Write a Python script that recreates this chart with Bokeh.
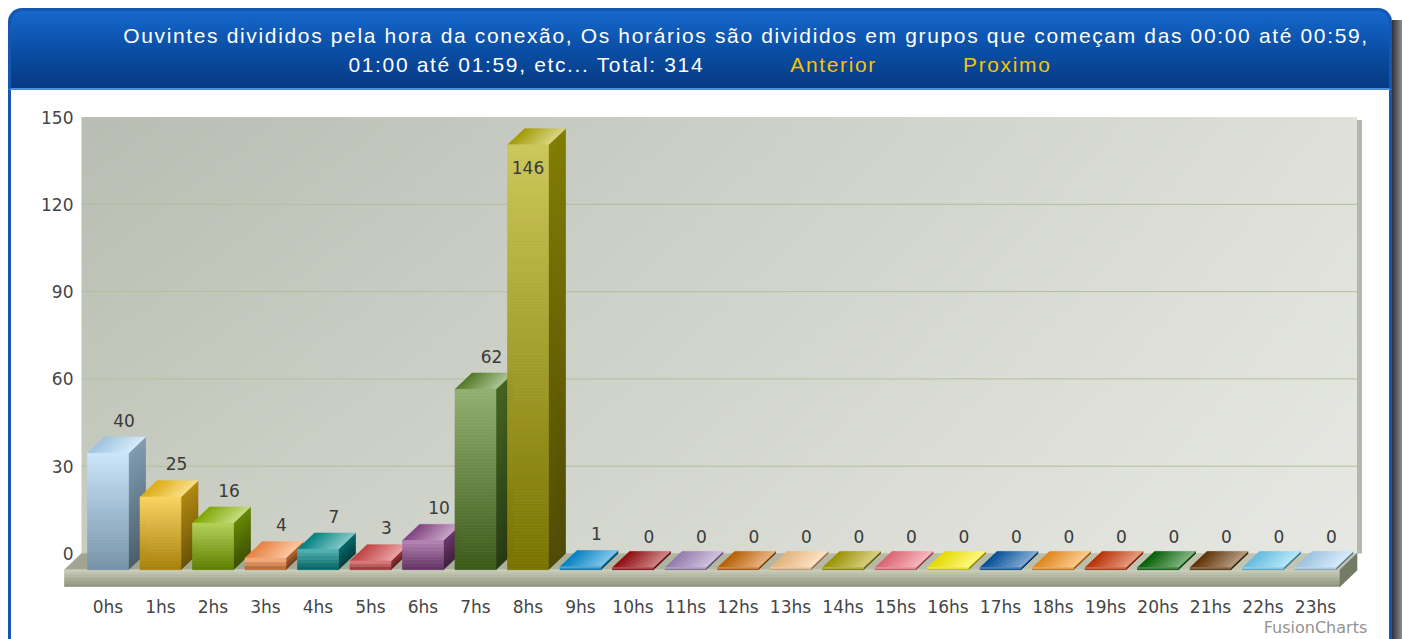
import numpy as np
from bokeh.plotting import figure
from bokeh.models import Range1d, FixedTicker, ColumnDataSource, Div, LinearAxis
from bokeh.layouts import column, row
from bokeh.embed import file_html
from bokeh.resources import INLINE
from bokeh.core.properties import value

# ---------------- data ----------------
hours = ["0hs", "1hs", "2hs", "3hs", "4hs", "5hs", "6hs", "7hs", "8hs", "9hs", "10hs", "11hs",
         "12hs", "13hs", "14hs", "15hs", "16hs", "17hs", "18hs", "19hs", "20hs", "21hs", "22hs", "23hs"]
listeners = [40, 25, 16, 4, 7, 3, 10, 62, 146, 1, 0, 0, 0, 0, 0, 0, 0, 0, 0, 0, 0, 0, 0, 0]
palette = ["#AFD8F8", "#F6BD0F", "#8BBA00", "#FF8E46", "#008E8E", "#D64646", "#8E468E", "#588526",
           "#B3AA00", "#008ED6", "#9D080D", "#A186BE", "#CC6600", "#FDC689", "#ABA000", "#F26D7D",
           "#FFF200", "#0054A6", "#F7941C", "#CC3300", "#006600", "#663300", "#6DCFF6", "#AFD8F8"]
y_ticks = [0, 30, 60, 90, 120, 150]
title_line1 = ("Ouvintes divididos pela hora da conexão, Os horários são divididos em grupos "
               "que começam das 00:00 até 00:59,")
title_line2 = "01:00 até 01:59, etc... Total: "
nav_links = ["Anterior", "Proximo"]
watermark = "FusionCharts"

# ---------------- layout (pixels) ----------------
OUTER = 8                  # white margin round the panel
PANEL_W = 1384
SHADOW_W = 10
BORDER = 3
BANNER_H = 82
FIG_W, FIG_H = PANEL_W - 2 * BORDER, 549
B_LEFT, B_RIGHT, B_TOP, B_BOTTOM = 51, 17, 10, 48
FRAME_W = FIG_W - B_LEFT - B_RIGHT
FRAME_H = FIG_H - B_TOP - B_BOTTOM
CAT_PX = 52.5              # px per category
FIRST_PX = 45.5            # first category centre from frame left
Y_PX = 88.0 / 30.0         # px per unit
ZERO_PX = 34.3             # wall zero above frame bottom
DEPTH_X_PX, DEPTH_Y_PX = 17.0, 16.3
BAR_W_PX = 41.0

x0r = -FIRST_PX / CAT_PX
y0r = -ZERO_PX / Y_PX
DX = DEPTH_X_PX / CAT_PX
DY = DEPTH_Y_PX / Y_PX
HW = BAR_W_PX / 2 / CAT_PX

def hx(c):
    c = c.lstrip("#")
    return np.array([int(c[i:i + 2], 16) for i in (0, 2, 4)], dtype=float)

def tohex(a):
    a = np.clip(np.round(a), 0, 255).astype(int)
    return "#%02x%02x%02x" % tuple(a)

def mix(a, b, t):
    return a + (b - a) * t

WHITE = np.array([255.0, 255.0, 255.0])
TXT_FONT = "DejaVu Sans"

p = figure(width=FIG_W, height=FIG_H,
           x_range=Range1d(x0r, x0r + FRAME_W / CAT_PX),
           y_range=Range1d(y0r, y0r + FRAME_H / Y_PX),
           output_backend="svg", toolbar_location=None,
           min_border_left=B_LEFT, min_border_right=B_RIGHT,
           min_border_top=B_TOP, min_border_bottom=B_BOTTOM,
           background_fill_color="white", border_fill_color="white",
           outline_line_color=None, margin=0)
p.xgrid.visible = False
p.ygrid.visible = False

n = len(hours)
xc = np.arange(n, dtype=float)

# ---------------- back wall (gradient image) ----------------
wall_x0 = -43.5 / CAT_PX + DX
wall_x1 = (n - 1) + 24.5 / CAT_PX + DX
wall_top = y_ticks[-1]
H, W = 60, 240
img = np.empty((H, W), dtype=np.uint32)
view = img.view(dtype=np.uint8).reshape((H, W, 4))
tl, tr, bl, br = hx("#b8beb3"), hx("#dee0d9"), hx("#c9cdc2"), hx("#e7e8e3")
for r in range(H):
    fy = r / (H - 1)
    left = mix(bl, tl, fy)
    right = mix(br, tr, fy)
    for cidx in range(W):
        view[r, cidx, 0:3] = mix(left, right, cidx / (W - 1))
        view[r, cidx, 3] = 255
p.image_rgba(image=[img], x=wall_x0, y=0, dw=wall_x1 - wall_x0, dh=wall_top)

# wall shadow on the right
p.quad(left=wall_x1, right=wall_x1 + 5 / CAT_PX, bottom=0, top=wall_top - 3 / Y_PX,
       fill_color="#aab0a2", line_color=None, fill_alpha=0.9)

# grid lines on the wall
grid = [t for t in y_ticks if 0 < t < wall_top]
p.segment(x0=[wall_x0] * len(grid), x1=[wall_x1] * len(grid), y0=grid, y1=grid,
          line_color="#b3bf9d", line_width=1)

# ---------------- polygons: floor + 3D bars ----------------
xs_all, ys_all, col_all = [], [], []

def add(xs, ys, c):
    xs_all.append(list(xs)); ys_all.append(list(ys)); col_all.append(c)

fx0 = -43.5 / CAT_PX
fx1 = (n - 1) + 24.5 / CAT_PX
slab = 17.0 / Y_PX
NS = 12
ftl, ftr = hx("#9fa48f"), hx("#c2c6b4")
for k in range(NS):
    a, b = k / NS, (k + 1) / NS
    xa, xb = fx0 + (fx1 - fx0) * a, fx0 + (fx1 - fx0) * b
    add([xa, xb, xb + DX, xa + DX], [-DY, -DY, 0, 0], tohex(mix(ftl, ftr, (a + b) / 2)))
fft, ffb = hx("#cdd0bd"), hx("#8b917b")
NF = 10
for k in range(NF):
    ya = -DY - slab * k / NF
    yb = -DY - slab * (k + 1) / NF
    add([fx0, fx1, fx1, fx0], [ya, ya, yb, yb], tohex(mix(fft, ffb, (k + 0.5) / NF)))
add([fx1, fx1 + DX, fx1 + DX, fx1], [-DY, 0, -slab, -DY - slab], "#737a66")

for i in range(n):
    base = hx(palette[i])
    h = max(listeners[i], 0.7)
    NB = max(3, int(h * Y_PX / 3))
    xl, xr = xc[i] - HW, xc[i] + HW
    yb0, yt0 = -DY, h - DY
    s_top, s_bot = base * 0.72, base * 0.42
    for k in range(NB):
        ya = yb0 + (yt0 - yb0) * k / NB
        yb = yb0 + (yt0 - yb0) * (k + 1) / NB
        add([xr, xr + DX, xr + DX, xr], [ya, ya + DY, yb + DY, yb],
            tohex(mix(s_bot, s_top, (k + 0.5) / NB)))
    t_l, t_r = base * 0.9, mix(base, WHITE, 0.5)
    NT = 10
    for k in range(NT):
        a, b = k / NT, (k + 1) / NT
        xa, xb = xl + (xr - xl) * a, xl + (xr - xl) * b
        add([xa, xb, xb + DX, xa + DX], [yt0, yt0, yt0 + DY, yt0 + DY],
            tohex(mix(t_l, t_r, (a + b) / 2)))
    f_top, f_bot = mix(base, WHITE, 0.35), base * 0.68
    for k in range(NB):
        ya = yb0 + (yt0 - yb0) * k / NB
        yb = yb0 + (yt0 - yb0) * (k + 1) / NB
        add([xl, xr, xr, xl], [ya, ya, yb, yb], tohex(mix(f_bot, f_top, (k + 0.5) / NB)))

src = ColumnDataSource(dict(xs=xs_all, ys=ys_all, c=col_all))
p.patches(xs="xs", ys="ys", fill_color="c", line_color="c", line_width=0.6, source=src)

# ---------------- value labels ----------------
lab_x, lab_y, lab_t = [], [], []
above = 17.0 / Y_PX
for i, v in enumerate(listeners):
    if v + above > wall_top:
        lab_x.append(xc[i]); lab_y.append(v - DY - 23.0 / Y_PX)
    else:
        lab_x.append(xc[i] + 16.0 / CAT_PX); lab_y.append(v + above)
    lab_t.append(str(v))
p.text(x=lab_x, y=lab_y, text=lab_t, text_align="center", text_baseline="middle",
       text_font=value(TXT_FONT), text_font_size="17px", text_color="#3a3a3a")

# ---------------- axes ----------------
p.yaxis.ticker = FixedTicker(ticks=y_ticks)
p.yaxis.axis_line_color = None
p.yaxis.major_tick_line_color = None
p.yaxis.minor_tick_line_color = None
p.yaxis.major_tick_out = 0
p.yaxis.major_tick_in = 0
p.yaxis.major_label_standoff = -11
p.yaxis.major_label_text_font = TXT_FONT
p.yaxis.major_label_text_font_size = "17px"
p.yaxis.major_label_text_color = "#454545"

p.xaxis.ticker = FixedTicker(ticks=list(range(n)))
p.xaxis.major_label_overrides = {i: hours[i] for i in range(n)}
p.xaxis.axis_line_color = None
p.xaxis.major_tick_line_color = None
p.xaxis.minor_tick_line_color = None
p.xaxis.major_tick_out = 0
p.xaxis.major_tick_in = 0
p.xaxis.major_label_standoff = 9
p.xaxis.major_label_text_font = TXT_FONT
p.xaxis.major_label_text_font_size = "17px"
p.xaxis.major_label_text_color = "#454545"

# "FusionCharts" credit under the last category, as a second (label-only) axis
credit_axis = LinearAxis(ticker=FixedTicker(ticks=[n - 1]),
                         major_label_overrides={n - 1: watermark},
                         axis_line_color=None, major_tick_line_color=None,
                         minor_tick_line_color=None, major_tick_out=0, major_tick_in=0,
                         major_label_standoff=-2, major_label_text_font=TXT_FONT,
                         major_label_text_font_size="16px", major_label_text_color="#939393")
p.add_layout(credit_axis, "below")

# ---------------- banner, frame borders and shadow ----------------
total = sum(listeners)
banner_html = (
    '<div style="width:%dpx;height:%dpx;box-sizing:border-box;margin:0;' % (PANEL_W, BANNER_H)
    + 'border:3px solid #1456b0;border-bottom:2px solid #4b8ee0;border-radius:14px 14px 0 0;'
    'background:linear-gradient(#1568cc,#0b4ea6 50%,#063a82);'
    'font-family:\'Liberation Sans\',Arial,sans-serif;font-size:21px;letter-spacing:1.65px;color:#ffffff;">'
    '<div style="padding-top:10px;padding-left:92px;text-align:center;line-height:29px;white-space:nowrap;">'
    + title_line1 + '</div>'
    '<div style="text-align:center;line-height:29px;white-space:nowrap;">'
    + title_line2 + str(total)
    + ''.join('<span style="color:#f2c40c;margin-left:86px;">%s</span>' % t for t in nav_links)
    + '</div></div>'
)
banner = Div(text=banner_html, width=PANEL_W, height=BANNER_H, margin=0)
left_border = Div(text="", width=BORDER, height=FIG_H, margin=0,
                  styles={"background-color": "#1456b0"})
right_border = Div(text="", width=BORDER, height=FIG_H, margin=0,
                   styles={"background-color": "#1456b0"})
shadow_html = ('<div style="width:%dpx;height:%dpx;margin-top:12px;'
               'background:linear-gradient(to right,#2f3036,#8d8d8d);"></div>'
               % (SHADOW_W, BANNER_H + FIG_H - 12))
shadow = Div(text=shadow_html, width=SHADOW_W, height=BANNER_H + FIG_H, margin=0)

panel = column(banner, row(left_border, p, right_border, spacing=0, margin=0),
               spacing=0, margin=0)
layout = row(panel, shadow, spacing=0, margin=(OUTER, 0, 0, OUTER))

open("out.html", "w").write(file_html(layout, INLINE))
